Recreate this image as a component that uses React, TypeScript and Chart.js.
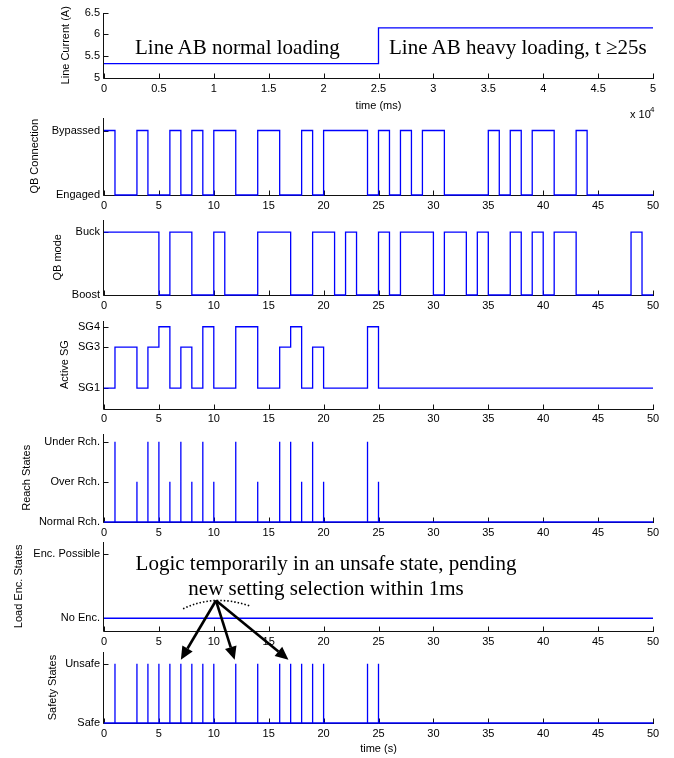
import React, { useEffect, useRef } from "react";
import { Chart, registerables } from "chart.js";

Chart.register(...registerables);
Chart.defaults.font.family = '"Liberation Sans", Arial, sans-serif';
Chart.defaults.color = "#000";

// ---------- DATA ----------
const lineTimeMs = [0, 25000, 50000];
const lineCurrentA = [5.33, 6.15, 6.15];
const msTicks = [0, 5000, 10000, 15000, 20000, 25000, 30000, 35000, 40000, 45000, 50000];

const sTicks = [0, 5, 10, 15, 20, 25, 30, 35, 40, 45, 50];

const qbConnTimes = [0, 1, 3, 4, 6, 7, 8, 9, 10, 12, 14, 16, 18, 19, 20, 24, 25, 26, 27, 28, 29, 31, 35, 36, 37, 38, 39, 41, 43, 44, 50];
const qbConnStates = [1, 0, 1, 0, 1, 0, 1, 0, 1, 0, 1, 0, 1, 0, 1, 0, 1, 0, 1, 0, 1, 0, 1, 0, 1, 0, 1, 0, 1, 0, 0];
const qbConnLabels = ["Engaged", "Bypassed"];

const qbModeTimes = [0, 5, 6, 8, 10, 11, 14, 17, 19, 21, 22, 23, 25, 26, 27, 30, 31, 33, 34, 35, 37, 38, 39, 40, 41, 43, 48, 49, 50];
const qbModeStates = [1, 0, 1, 0, 1, 0, 1, 0, 1, 0, 1, 0, 1, 0, 1, 0, 1, 0, 1, 0, 1, 0, 1, 0, 1, 0, 1, 0, 0];
const qbModeLabels = ["Boost", "Buck"];

const sgTimes = [0, 1, 3, 4, 5, 6, 7, 8, 9, 10, 12, 14, 16, 17, 18, 19, 20, 24, 25, 50];
const sgStates = [1, 3, 1, 3, 4, 1, 3, 1, 4, 1, 4, 1, 3, 4, 1, 3, 1, 4, 1, 1];
const sgTickValues = [1, 3, 4];
const sgLabels = ["SG1", "SG3", "SG4"];

const reachSpikeTimes = [1, 3, 4, 5, 6, 7, 8, 9, 10, 12, 14, 16, 17, 18, 19, 20, 24, 25];
const reachSpikeLevels = [2, 1, 2, 2, 1, 2, 1, 2, 1, 2, 1, 2, 2, 1, 2, 1, 2, 1];
const reachLabels = ["Normal Rch.", "Over Rch.", "Under Rch."];

const encTimes = [0, 50];
const encStates = [0, 0];
const encLabels = ["No Enc.", "Enc. Possible"];

const safetySpikeTimes = [1, 3, 4, 5, 6, 7, 8, 9, 10, 12, 14, 16, 17, 18, 19, 20, 24, 25];
const safetySpikeLevels = [1, 1, 1, 1, 1, 1, 1, 1, 1, 1, 1, 1, 1, 1, 1, 1, 1, 1];
const safetyLabels = ["Safe", "Unsafe"];

// annotation (data coords of the safety panel)
const arrowOrigin = { x: 10.2, y: 2.07 };
const arrowTargets = [
  { x: 7, y: 1.07 },
  { x: 11.9, y: 1.07 },
  { x: 16.8, y: 1.07 },
];
const dottedArc = [
  { x: 7.2, y: 1.93 },
  { x: 10.2, y: 2.07 },
  { x: 13.4, y: 1.97 },
];

// ---------- helpers ----------
const stepPts = (t: number[], v: number[]) => t.map((x, i) => ({ x, y: v[i] }));
const spikePts = (t: number[], v: number[], end: number) => {
  const pts: { x: number; y: number }[] = [{ x: 0, y: 0 }];
  t.forEach((x, i) => {
    pts.push({ x, y: 0 }, { x, y: v[i] }, { x, y: 0 });
  });
  pts.push({ x: end, y: 0 });
  return pts;
};

const axesPlugin = {
  id: "matlabAxes",
  beforeDatasetsDraw(chart: any) {
    const { ctx, chartArea } = chart;
    const xs = chart.scales.x;
    const ys = chart.scales.y;
    ctx.save();
    ctx.strokeStyle = "#111";
    ctx.lineWidth = 1;
    const bx = Math.round(chartArea.bottom) + 0.5;
    const lx = Math.round(chartArea.left) - 0.5;
    ctx.beginPath();
    ctx.moveTo(lx, Math.round(chartArea.top));
    ctx.lineTo(lx, bx);
    ctx.lineTo(Math.round(chartArea.right) + 1, bx);
    xs.ticks.forEach((t: any) => {
      const px = Math.round(xs.getPixelForValue(t.value)) + 0.5;
      ctx.moveTo(px, bx);
      ctx.lineTo(px, bx - 5);
    });
    ys.ticks.forEach((t: any) => {
      const py = Math.round(ys.getPixelForValue(t.value)) + 0.5;
      ctx.moveTo(lx, py);
      ctx.lineTo(lx + 5, py);
    });
    ctx.stroke();
    ctx.restore();
  },
};

const arrowPlugin = {
  id: "arrows",
  afterDraw(chart: any) {
    const { ctx } = chart;
    const xs = chart.scales.x;
    const ys = chart.scales.y;
    const P = (p: { x: number; y: number }) => [xs.getPixelForValue(p.x), ys.getPixelForValue(p.y)];
    ctx.save();
    // dotted arc
    const a = P(dottedArc[0]);
    const m = P(dottedArc[1]);
    const b = P(dottedArc[2]);
    ctx.strokeStyle = "#000";
    ctx.lineWidth = 1.6;
    ctx.setLineDash([1.5, 2]);
    ctx.beginPath();
    ctx.moveTo(a[0], a[1]);
    ctx.quadraticCurveTo(2 * m[0] - (a[0] + b[0]) / 2, 2 * m[1] - (a[1] + b[1]) / 2, b[0], b[1]);
    ctx.stroke();
    ctx.setLineDash([]);
    const o = P(arrowOrigin);
    arrowTargets.forEach((tg) => {
      const t = P(tg);
      const dx = t[0] - o[0];
      const dy = t[1] - o[1];
      const len = Math.hypot(dx, dy);
      const ux = dx / len;
      const uy = dy / len;
      const hl = 13;
      const hw = 6;
      const bxp = t[0] - ux * hl;
      const byp = t[1] - uy * hl;
      ctx.lineWidth = 2.6;
      ctx.beginPath();
      ctx.moveTo(o[0], o[1]);
      ctx.lineTo(bxp, byp);
      ctx.stroke();
      ctx.fillStyle = "#000";
      ctx.beginPath();
      ctx.moveTo(t[0], t[1]);
      ctx.lineTo(bxp - uy * hw, byp + ux * hw);
      ctx.lineTo(bxp + uy * hw, byp - ux * hw);
      ctx.closePath();
      ctx.fill();
    });
    ctx.restore();
  },
};

type Cfg = {
  top: number;
  bottom: number;
  padTop: number;
  titleX: number;
  title: string;
  yMin: number;
  yMax: number;
  yTicks: number[];
  yLabels: string[];
  xMin: number;
  xMax: number;
  xTicks: number[];
  xFmt: (v: number) => string;
  xTitle?: string;
  xTitleY?: number;
  data: { x: number; y: number }[];
  stepped: boolean;
  extra?: any[];
};

const panels: Cfg[] = [
  {
    top: 12, bottom: 78, padTop: 10, titleX: 66, title: "Line Current (A)",
    yMin: 5, yMax: 6.5, yTicks: [5, 5.5, 6, 6.5], yLabels: ["5", "5.5", "6", "6.5"],
    xMin: 0, xMax: 50000, xTicks: msTicks, xFmt: (v) => String(v / 10000),
    xTitle: "time (ms)", xTitleY: 106,
    data: stepPts(lineTimeMs, lineCurrentA), stepped: true,
  },
  {
    top: 117, bottom: 195, padTop: 10, titleX: 35, title: "QB Connection",
    yMin: 0, yMax: 1.2, yTicks: [0, 1], yLabels: qbConnLabels,
    xMin: 0, xMax: 50, xTicks: sTicks, xFmt: (v) => String(v),
    data: stepPts(qbConnTimes, qbConnStates), stepped: true,
  },
  {
    top: 219, bottom: 295, padTop: 10, titleX: 58, title: "QB mode",
    yMin: 0, yMax: 1.2, yTicks: [0, 1], yLabels: qbModeLabels,
    xMin: 0, xMax: 50, xTicks: sTicks, xFmt: (v) => String(v),
    data: stepPts(qbModeTimes, qbModeStates), stepped: true,
  },
  {
    top: 320, bottom: 408.5, padTop: 10, titleX: 65, title: "Active SG",
    yMin: 0, yMax: 4.3, yTicks: sgTickValues, yLabels: sgLabels,
    xMin: 0, xMax: 50, xTicks: sTicks, xFmt: (v) => String(v),
    data: stepPts(sgTimes, sgStates), stepped: true,
  },
  {
    top: 433, bottom: 522, padTop: 10, titleX: 27, title: "Reach States",
    yMin: 0, yMax: 2.2, yTicks: [0, 1, 2], yLabels: reachLabels,
    xMin: 0, xMax: 50, xTicks: sTicks, xFmt: (v) => String(v),
    data: spikePts(reachSpikeTimes, reachSpikeLevels, 50), stepped: false,
  },
  {
    top: 541, bottom: 631, padTop: 10, titleX: 19, title: "Load Enc. States",
    yMin: -0.2, yMax: 1.2, yTicks: [0, 1], yLabels: encLabels,
    xMin: 0, xMax: 50, xTicks: sTicks, xFmt: (v) => String(v),
    data: stepPts(encTimes, encStates), stepped: true,
  },
  {
    top: 652, bottom: 723, padTop: 62, titleX: 53, title: "Safety States",
    yMin: 0, yMax: 1.2, yTicks: [0, 1], yLabels: safetyLabels,
    xMin: 0, xMax: 50, xTicks: sTicks, xFmt: (v) => String(v),
    xTitle: "time (s)", xTitleY: 749,
    data: spikePts(safetySpikeTimes, safetySpikeLevels, 50), stepped: false,
    extra: [arrowPlugin],
  },
];

function Panel({ cfg }: { cfg: Cfg }) {
  const ref = useRef<HTMLCanvasElement>(null);
  const lineH = 11 * 1.2;
  const xAxisH = cfg.xTitle ? cfg.xTitleY! + lineH / 2 - cfg.bottom : 22;
  const canvasTop = cfg.top - cfg.padTop;
  const h = Math.ceil(cfg.padTop + (cfg.bottom - cfg.top) + xAxisH);
  const padLeft = cfg.titleX - lineH / 2;

  useEffect(() => {
    const chart = new Chart(ref.current!, {
      type: "line",
      data: {
        datasets: [
          {
            data: cfg.data,
            borderColor: "#0000ff",
            borderWidth: 1.3,
            pointRadius: 0,
            stepped: cfg.stepped ? "before" : false,
            fill: false,
            tension: 0,
            clip: false as any,
          } as any,
        ],
      },
      options: {
        animation: false,
        responsive: false,
        devicePixelRatio: 1,
        events: [],
        layout: { padding: { left: padLeft, top: cfg.padTop, right: 21, bottom: h - (cfg.padTop + (cfg.bottom - cfg.top) + xAxisH) } },
        plugins: { legend: { display: false }, tooltip: { enabled: false } },
        scales: {
          x: {
            type: "linear",
            min: cfg.xMin,
            max: cfg.xMax,
            grid: { display: false, drawTicks: false },
            border: { display: false },
            afterBuildTicks: (s: any) => {
              s.ticks = cfg.xTicks.map((v) => ({ value: v }));
            },
            afterFit: (s: any) => {
              s.height = xAxisH;
            },
            ticks: {
              autoSkip: false,
              maxRotation: 0,
              padding: 4,
              color: "#000",
              font: { size: 11 },
              callback: (v: any) => cfg.xFmt(Number(v)),
            },
            title: {
              display: !!cfg.xTitle,
              text: cfg.xTitle || "",
              color: "#000",
              font: { size: 11 },
              padding: 0,
            },
          },
          y: {
            type: "linear",
            min: cfg.yMin,
            max: cfg.yMax,
            grid: { display: false, drawTicks: false },
            border: { display: false },
            afterBuildTicks: (s: any) => {
              s.ticks = cfg.yTicks.map((v) => ({ value: v }));
            },
            afterFit: (s: any) => {
              s.width = 104 - padLeft;
            },
            ticks: {
              autoSkip: false,
              padding: 4,
              color: "#000",
              font: { size: 11 },
              callback: (_v: any, i: number) => cfg.yLabels[i],
            },
            title: {
              display: true,
              text: cfg.title,
              color: "#000",
              font: { size: 11 },
              padding: 0,
            },
          },
        },
      },
      plugins: [axesPlugin, ...(cfg.extra || [])],
    } as any);
    return () => chart.destroy();
  }, []);

  return (
    <canvas
      ref={ref}
      width={674}
      height={h}
      style={{ position: "absolute", left: 0, top: canvasTop, width: 674, height: h }}
    />
  );
}

const serif: React.CSSProperties = {
  position: "absolute",
  fontFamily: '"Liberation Serif", "Times New Roman", serif',
  fontSize: 21,
  lineHeight: "22px",
  color: "#000",
  whiteSpace: "nowrap",
};

export default function App() {
  return (
    <div style={{ position: "absolute", left: 0, top: 0, width: 674, height: 758, background: "#fff", overflow: "hidden" }}>
      {panels.map((p, i) => (
        <Panel key={i} cfg={p} />
      ))}
      <div style={{ ...serif, left: 135, top: 36 }}>Line AB normal loading</div>
      <div style={{ ...serif, left: 389, top: 36 }}>Line AB heavy loading, t ≥25s</div>
      <div style={{ ...serif, left: 0, width: 652, textAlign: "center", top: 552 }}>
        Logic temporarily in an unsafe state, pending
      </div>
      <div style={{ ...serif, left: 0, width: 652, textAlign: "center", top: 577 }}>
        new setting selection within 1ms
      </div>
      <div style={{ position: "absolute", left: 630, top: 108, fontFamily: '"Liberation Sans", Arial, sans-serif', fontSize: 11, lineHeight: "13px", whiteSpace: "nowrap" }}>
        x 10
      </div>
      <div style={{ position: "absolute", left: 650, top: 105, fontFamily: '"Liberation Sans", Arial, sans-serif', fontSize: 8, lineHeight: "9px" }}>
        4
      </div>
    </div>
  );
}
